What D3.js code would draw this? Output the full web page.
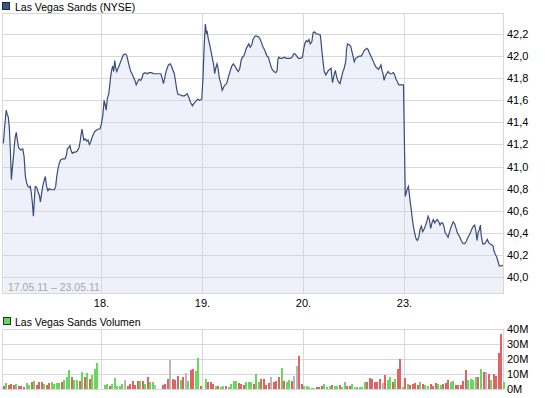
<!DOCTYPE html>
<html>
<head>
<meta charset="utf-8">
<script src="https://cdn.jsdelivr.net/npm/d3@7"></script>
<style>
body { margin: 0; background: #fff; }
svg { display: block; font-family: "Liberation Sans", Arial, sans-serif; font-size: 11px; }
</style>
</head>
<body>
<svg id="chart" width="545" height="398"></svg>
<script>
/********************************************************
 ********************* Data *****************************
 ********************************************************/
var dayLabels = ["18.", "19.", "20.", "23."];
var rangeText = "17.05.11 \u2013 23.05.11";
var priceTicks = [40.0, 40.2, 40.4, 40.6, 40.8, 41.0, 41.2, 41.4, 41.6, 41.8, 42.0, 42.2];
var priceTickLabels = ["40,0", "40,2", "40,4", "40,6", "40,8", "41,0", "41,2", "41,4", "41,6", "41,8", "42,0", "42,2"];
var volTicks = [0, 10, 20, 30, 40];
var volTickLabels = ["0M", "10M", "20M", "30M", "40M"];

// minutes after open / price, one pair of arrays per trading day
var t17 = [13,18,24,28,32,36,40,44,47,51,55,59,63,67,72,80,88,93,98,103,108,113,117,121,125,129,132,136,142,147,152,156,159,165,171,175,180,185,190,197,203,210,215,219,224,229,234,242,251,256,260,265,270,274,279,286,292,298,305,309,313,317,320,324,329,335,340,345,350,355,360,367,373,380,386];
var p17 = [41.21,41.36,41.51,41.47,41.45,41.35,41.15,40.88,40.97,41.06,
  41.18,41.27,41.31,41.24,41.17,41.15,41.16,41.09,40.91,40.85,
  40.82,40.81,40.82,40.76,40.67,40.55,40.67,40.82,40.81,40.77,
  40.74,40.68,40.73,40.82,40.88,40.91,40.82,40.78,40.80,40.79,
  40.79,40.79,40.82,40.91,40.98,41.03,41.06,41.07,41.07,41.10,
  41.16,41.17,41.19,41.15,41.12,41.13,41.13,41.14,41.17,41.22,
  41.29,41.34,41.29,41.24,41.25,41.23,41.24,41.20,41.22,41.26,
  41.29,41.32,41.33,41.34,41.34];

var t18 = [1,7,12,17,20,24,30,34,37,41,45,49,53,57,61,66,71,76,81,86,93,99,104,109,115,120,125,131,136,142,147,153,158,163,171,179,186,196,202,210,217,225,231,236,241,246,251,260,268,275,283,288,293,298,306,314,322,328,333,340,346,353,358,366,373,381,389];
var p18 = [41.38,41.46,41.60,41.55,41.51,41.61,41.66,41.74,41.81,41.87,
  41.91,41.86,41.96,41.89,41.86,41.89,41.92,41.95,41.98,42.01,
  42.02,42.01,41.96,41.91,41.86,41.84,41.81,41.78,41.74,41.77,
  41.79,41.78,41.80,41.84,41.85,41.84,41.85,41.85,41.84,41.84,
  41.84,41.84,41.84,41.80,41.75,41.80,41.86,41.92,41.93,41.89,
  41.84,41.77,41.69,41.65,41.65,41.64,41.64,41.65,41.66,41.62,
  41.58,41.55,41.57,41.59,41.61,41.60,41.61];

var t19 = [4,8,13,17,20,24,30,35,40,45,49,53,58,62,67,73,78,84,89,95,102,108,115,121,127,134,140,146,151,156,161,166,171,176,181,186,192,197,205,212,220,225,230,236,241,246,251,256,261,266,271,278,285,290,293,297,302,310,318,325,333,341,348,354,359,366,372,380,388];
var p19 = [41.81,42.07,42.29,42.21,42.22,42.16,42.10,42.04,41.98,41.92,
  41.84,41.89,41.93,41.89,41.80,41.75,41.69,41.72,41.74,41.75,
  41.81,41.86,41.91,41.93,41.91,41.88,41.86,41.89,41.96,41.99,
  42.00,42.03,42.07,42.09,42.11,42.08,42.10,42.15,42.18,42.18,
  42.17,42.15,42.12,42.08,42.06,42.03,42.00,41.99,41.95,41.91,
  41.88,41.86,41.85,41.87,41.97,41.99,41.98,41.98,41.99,41.98,
  41.98,41.98,41.99,42.02,42.02,42.00,41.98,41.98,41.99];

var t20 = [3,8,13,18,23,28,34,39,44,51,59,67,72,77,82,88,93,98,103,108,114,120,125,130,136,143,148,153,159,165,168,172,179,184,189,194,198,203,210,217,225,230,236,241,246,251,256,262,266,272,277,282,287,292,297,301,305,309,313,318,323,329,336,342,349,354,359,364,370,375,382,388];
var p20 = [42.07,42.12,42.14,42.13,42.15,42.11,42.13,42.21,42.22,42.20,
  42.20,42.19,42.07,41.96,41.86,41.83,41.85,41.87,41.88,41.89,
  41.76,41.83,41.87,41.81,41.77,41.75,41.80,41.85,41.89,41.95,
  42.06,42.11,42.10,42.09,42.04,41.99,41.95,41.98,41.99,42.00,
  42.00,42.02,42.05,42.06,42.07,42.06,42.03,42.00,41.98,41.95,
  41.92,41.90,41.89,41.88,41.90,41.92,41.87,41.84,41.78,41.82,
  41.84,41.86,41.84,41.84,41.85,41.83,41.79,41.77,41.74,41.74,
  41.74,41.74];

var t23 = [5,13,17,20,24,28,32,36,41,46,51,57,62,67,72,77,82,88,93,98,103,108,113,119,124,128,134,139,144,149,154,159,165,170,175,180,185,190,196,201,206,211,216,221,226,232,237,242,247,252,258,263,268,273,278,282,286,291,295,298,304,311,317,322,327,332,339,344,347,352,358,363,368,376,384];
var p23 = [40.73,40.80,40.82,40.76,40.68,40.61,40.53,40.46,40.40,40.35,
  40.33,40.36,40.43,40.46,40.41,40.43,40.46,40.50,40.55,40.52,
  40.44,40.49,40.52,40.49,40.51,40.52,40.50,40.47,40.49,40.49,
  40.46,40.40,40.38,40.36,40.40,40.44,40.47,40.50,40.48,40.44,
  40.40,40.38,40.36,40.33,40.31,40.30,40.31,40.33,40.36,40.38,
  40.41,40.44,40.46,40.47,40.41,40.33,40.40,40.43,40.47,40.38,
  40.30,40.30,40.32,40.34,40.31,40.30,40.29,40.28,40.24,40.21,
  40.18,40.14,40.10,40.10,40.11];

// volume in millions, 40 ten-minute slots per day; g = up, r = down, n = unchanged
var v17 = [0,2.0,3.8,2.7,3.3,2.4,3.3,2.0,2.0,1.6,3.8,2.7,4.4,5.3,2.7,4.7,4.7,3.6,2.9,4.2,4.7,3.6,4.0,4.2,4.7,6.0,8.0,12.7,7.8,6.0,6.0,5.3,11.6,8.2,10.4,6.4,9.3,13.3,17.6,0];
var d17 = "nrgrrrgrrrggrgrrrgrrggggrgggrggrgrgrgggn";
var v18 = [0,2.7,3.3,2.0,3.3,7.6,2.2,2.0,3.3,6.0,2.0,3.1,5.6,2.4,5.6,5.6,5.6,3.1,8.0,4.7,4.7,2.4,0,0,2.7,3.3,6.7,19.3,6.7,6.0,8.9,6.0,7.8,10.4,5.6,12.7,13.1,12.2,20.7,2.0];
var d18 = "nggrgggggnrrrrrgrgrggnnnrrrnrrrgrngrrggr";
var v19 = [0,6.7,4.9,4.7,3.1,2.0,2.0,1.6,2.0,2.0,1.6,3.3,5.3,5.3,4.0,3.3,2.9,4.7,4.7,4.7,3.6,10.0,4.7,6.7,6.7,2.7,4.0,8.0,4.7,5.1,8.0,14.0,5.3,4.7,6.0,5.6,8.7,15.3,22.0,3.3];
var d19 = "ngrrrgrggrggggrrrgggrggrrrrnrrrgrggrnnrr";
var v20 = [2.0,2.0,1.1,0.7,0.9,1.1,1.3,2.0,3.1,1.3,2.0,2.4,2.0,2.0,2.7,1.3,4.9,2.0,2.0,3.1,1.6,1.6,1.3,1.6,4.7,4.7,7.6,6.7,4.7,4.4,6.7,4.2,9.3,6.0,8.0,4.7,6.7,13.3,20.0,1.1];
var d20 = "gggggrrrgggrggrggrrgnggggrrrrrrnrggrgrrg";
var v23 = [7.6,3.3,2.7,3.3,4.2,2.7,4.9,3.3,2.7,2.0,3.3,2.0,4.0,3.3,2.7,3.3,4.2,6.0,4.9,5.6,2.7,2.7,2.7,5.3,12.7,6.0,6.7,6.0,8.0,8.0,13.3,11.3,11.3,10.0,6.0,10.0,8.7,23.8,36.7,4.7];
var d23 = "rgrrrrgrggrrrggrrrggrrrrrggggrgrnrgrrrrg";

/********************************************************
 ********************* Layout ***************************
 ********************************************************/
var svg = d3.select("#chart");
var left = 2, right = 503;
var top1 = 13, bottom1 = 293;
var top2 = 329, bottom2 = 389;
var gridColor = "#d8d8d8";
var lineColor = "#3a4b7a";
var fillColor = "#eef1fa";
var barColors = { g: "#66d95c", r: "#e06262", n: "#b8b8b8" };

var xScale = d3.scaleLinear().domain([0, 5]).range([0, 505]);
var yPrice = d3.scaleLinear().domain([40.0, 42.2]).range([277, 34]);
var yVol = d3.scaleLinear().domain([0, 40]).range([bottom2, top2]);

function crisp(v) { return Math.round(v) + 0.5; }

// build price points
var priceDays = [[t17, p17], [t18, p18], [t19, p19], [t20, p20], [t23, p23]];
var points = [];
priceDays.forEach(function(day, d) {
  day[0].forEach(function(m, i) {
    points.push({ t: d + m / 390, v: day[1][i] });
  });
});

// build volume bars
var volDays = [[v17, d17], [v18, d18], [v19, d19], [v20, d20], [v23, d23]];
var bars = [];
volDays.forEach(function(day, d) {
  day[0].forEach(function(v, i) {
    bars.push({ t: d + (i + 0.5) / 40, v: v, dir: day[1].charAt(i) });
  });
});

/********************************************************
 ********************* Price chart **********************
 ********************************************************/
svg.append("clipPath").attr("id", "clip1")
  .append("rect")
  .attr("x", left).attr("y", top1)
  .attr("width", right - left).attr("height", bottom1 - top1);

var area = d3.area()
  .x(function(d) { return xScale(d.t); })
  .y0(bottom1)
  .y1(function(d) { return yPrice(d.v); });

var line = d3.line()
  .x(function(d) { return xScale(d.t); })
  .y(function(d) { return yPrice(d.v); });

svg.append("path")
  .datum(points)
  .attr("clip-path", "url(#clip1)")
  .attr("fill", fillColor)
  .attr("d", area);

// grid
var g1 = svg.append("g");
g1.selectAll(".hgrid")
  .data(priceTicks)
  .enter()
  .append("line")
  .attr("x1", left).attr("x2", right)
  .attr("y1", function(d) { return crisp(yPrice(d)); })
  .attr("y2", function(d) { return crisp(yPrice(d)); })
  .attr("stroke", gridColor);

g1.selectAll(".vgrid")
  .data([1, 2, 3, 4])
  .enter()
  .append("line")
  .attr("x1", function(d) { return crisp(xScale(d)); })
  .attr("x2", function(d) { return crisp(xScale(d)); })
  .attr("y1", top1).attr("y2", bottom1)
  .attr("stroke", gridColor);

g1.append("rect")
  .attr("x", left + 0.5).attr("y", top1 + 0.5)
  .attr("width", right - left).attr("height", bottom1 - top1)
  .attr("fill", "none")
  .attr("stroke", gridColor);

svg.append("path")
  .datum(points)
  .attr("clip-path", "url(#clip1)")
  .attr("fill", "none")
  .attr("stroke", lineColor)
  .attr("stroke-width", 1.2)
  .attr("d", line);

svg.append("text")
  .attr("x", 8).attr("y", 291)
  .attr("fill", "#a8a8a8")
  .style("font-size", "10.5px")
  .text(rangeText);

// right axis
var yAxis = svg.append("g")
  .attr("transform", "translate(" + right + ",0)")
  .call(d3.axisRight(yPrice)
    .tickValues(priceTicks)
    .tickSize(0)
    .tickPadding(4)
    .tickFormat(function(d, i) { return priceTickLabels[i]; }));
yAxis.select(".domain").remove();
yAxis.selectAll("text").attr("fill", "#000").style("font-size", "11px").style("font-family", null);

// day axis
var xAxis = svg.append("g")
  .attr("transform", "translate(0," + bottom1 + ")")
  .call(d3.axisBottom(xScale)
    .tickValues([1, 2, 3, 4])
    .tickSize(0)
    .tickPadding(6)
    .tickFormat(function(d, i) { return dayLabels[i]; }));
xAxis.select(".domain").remove();
xAxis.selectAll("text").attr("fill", "#000").style("font-size", "11px").style("font-family", null);

// legend
svg.append("rect")
  .attr("x", 2.5).attr("y", 2.5).attr("width", 7).attr("height", 7)
  .attr("fill", "#3d5183").attr("stroke", "#1e2a44");
svg.append("text").attr("x", 15).attr("y", 11)
  .style("font-size", "10.5px")
  .text("Las Vegas Sands (NYSE)");

/********************************************************
 ********************* Volume chart *********************
 ********************************************************/
var g2 = svg.append("g");
g2.selectAll(".hgrid")
  .data(volTicks)
  .enter()
  .append("line")
  .attr("x1", left).attr("x2", right)
  .attr("y1", function(d) { return crisp(yVol(d)); })
  .attr("y2", function(d) { return crisp(yVol(d)); })
  .attr("stroke", gridColor);

g2.selectAll(".vgrid")
  .data([1, 2, 3, 4])
  .enter()
  .append("line")
  .attr("x1", function(d) { return crisp(xScale(d)); })
  .attr("x2", function(d) { return crisp(xScale(d)); })
  .attr("y1", top2).attr("y2", bottom2)
  .attr("stroke", gridColor);

g2.append("line")
  .attr("x1", left + 0.5).attr("x2", left + 0.5)
  .attr("y1", top2).attr("y2", bottom2)
  .attr("stroke", gridColor);
g2.append("line")
  .attr("x1", right + 0.5).attr("x2", right + 0.5)
  .attr("y1", top2).attr("y2", bottom2 + 1)
  .attr("stroke", gridColor);

svg.selectAll(".bar")
  .data(bars.filter(function(d) { return d.v > 0; }))
  .enter()
  .append("rect")
  .attr("class", "bar")
  .attr("x", function(d) { return Math.round(xScale(d.t)) - 1; })
  .attr("y", function(d) { return Math.round(yVol(d.v)); })
  .attr("width", 2)
  .attr("height", function(d) { return bottom2 - Math.round(yVol(d.v)); })
  .attr("fill", function(d) { return barColors[d.dir]; });

var vAxis = svg.append("g")
  .attr("transform", "translate(" + right + ",0)")
  .call(d3.axisRight(yVol)
    .tickValues(volTicks)
    .tickSize(0)
    .tickPadding(4)
    .tickFormat(function(d, i) { return volTickLabels[i]; }));
vAxis.select(".domain").remove();
vAxis.selectAll("text").attr("fill", "#000").style("font-size", "11px").style("font-family", null);

svg.append("rect")
  .attr("x", 3.5).attr("y", 317.5).attr("width", 7).attr("height", 7)
  .attr("fill", "#66d95c").attr("stroke", "#1f3a1f");
svg.append("text").attr("x", 15).attr("y", 326)
  .style("font-size", "10.5px")
  .text("Las Vegas Sands Volumen");
</script>
</body>
</html>
